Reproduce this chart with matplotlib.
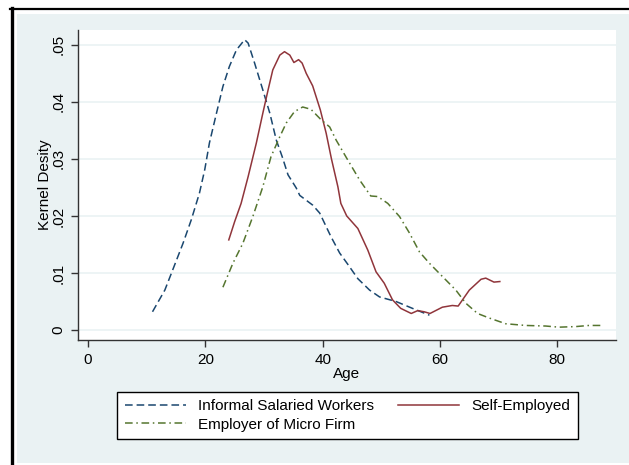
import numpy as np
import matplotlib.pyplot as plt
from matplotlib.patches import Rectangle
from matplotlib.lines import Line2D

# kernel density of age, by type of worker
salariedAge = [11.0, 13.1, 14.2, 16.2, 17.6, 19.0, 19.9, 20.7, 21.9, 23.0, 24.1, 25.3, 26.7, 27.3,
               28.4, 29.8, 31.0, 32.1, 33.1, 34.1, 35.5, 36.1, 38.3, 39.5, 41.4, 42.9, 44.3,
               46.0, 48.0, 49.7, 52.5, 55.3, 58.2]
salariedDens = [0.0032, 0.0070, 0.0099, 0.0152, 0.0193, 0.0240, 0.0281, 0.0328, 0.0380, 0.0427,
                0.0462, 0.0491, 0.0509, 0.0503, 0.0468, 0.0421, 0.0380, 0.0333, 0.0304, 0.0272,
                0.0249, 0.0236, 0.0219, 0.0205, 0.0164, 0.0135, 0.0115, 0.0090, 0.0070, 0.0058,
                0.0050, 0.0038, 0.0026]

selfAge = [24.0, 25.0, 26.1, 27.3, 28.7, 29.8, 30.7, 31.5, 32.7, 33.5, 34.4, 35.1, 35.9, 36.5,
           37.2, 38.3, 39.6, 40.6, 41.5, 42.6, 43.1, 44.1, 46.0, 47.7, 49.1, 50.5, 51.9, 53.3,
           55.1, 56.2, 57.3, 58.3, 60.4, 62.1, 63.1, 65.0, 67.0, 67.8, 69.2, 70.2]
selfDens = [0.0158, 0.0190, 0.0222, 0.0269, 0.0328, 0.0380, 0.0421, 0.0456, 0.0482, 0.0488,
            0.0482, 0.0469, 0.0474, 0.0468, 0.0450, 0.0428, 0.0386, 0.0345, 0.0300, 0.0251,
            0.0222, 0.0200, 0.0178, 0.0140, 0.0102, 0.0082, 0.0053, 0.0038, 0.0029, 0.0034,
            0.0032, 0.0029, 0.0040, 0.0043, 0.0042, 0.0070, 0.0089, 0.0091, 0.0084, 0.0085]

employerAge = [23.0, 24.7, 26.4, 28.1, 29.8, 31.2, 32.7, 33.8, 35.2, 36.6, 38.0, 39.7, 41.2,
               42.3, 44.0, 46.3, 48.2, 49.4, 51.1, 53.1, 54.8, 56.5, 58.2, 60.4, 62.7, 64.4,
               66.4, 68.4, 71.2, 74.6, 78.0, 80.3, 83.1, 85.4, 87.9]
employerDens = [0.0075, 0.0117, 0.0152, 0.0199, 0.0251, 0.0304, 0.0339, 0.0363, 0.0383, 0.0391,
                0.0387, 0.0369, 0.0356, 0.0333, 0.0303, 0.0263, 0.0235, 0.0234, 0.0222, 0.0199,
                0.0170, 0.0137, 0.0117, 0.0094, 0.0070, 0.0047, 0.0029, 0.0021, 0.0011, 0.0008,
                0.0007, 0.0005, 0.0006, 0.0008, 0.0008]

xTicks = [0, 20, 40, 60, 80]
yTicks = [0, 0.01, 0.02, 0.03, 0.04, 0.05]
yTickLabels = ['0', '.01', '.02', '.03', '.04', '.05']

plt.rcParams['font.family'] = ['Liberation Sans', 'DejaVu Sans']

W, H = 629, 465
fig = plt.figure(figsize=(W / 100, H / 100), dpi=100, facecolor='white')

bgColor = '#EAF2F3'
fig.patches.append(Rectangle((17 / W, 2 / H), 1 - 17 / W, (H - 16) / H,
                             transform=fig.transFigure, facecolor=bgColor,
                             edgecolor='none', zorder=-5))
fig.lines.append(Line2D([11.5 / W, 11.5 / W], [0, 1 - 8 / H], transform=fig.transFigure,
                        color='black', lw=2.4, zorder=-4))
fig.lines.append(Line2D([10 / W, 1], [1 - 9 / H, 1 - 9 / H], transform=fig.transFigure,
                        color='black', lw=1.6, zorder=-4))

# caption from the page, cut at the top
fig.text(-27 / W, 1 + 0.5 / H, 'Figure 3.1: Distribution of Age among Informal Employment Categories',
         family='Liberation Serif', weight='bold', fontsize=18.9, va='bottom', ha='left')

ax = fig.add_axes([78 / W, 1 - 340 / H, (616 - 78) / W, (340 - 30) / H], zorder=2)
ax.set_facecolor('white')

navy = '#1A476F'
maroon = '#90353B'
green = '#55752F'

l1, = ax.plot(salariedAge, salariedDens, color=navy, lw=1.1, dashes=(5, 2.6),
              label='Informal Salaried Workers')
l2, = ax.plot(selfAge, selfDens, color=maroon, lw=1.1, label='Self-Employed')
l3, = ax.plot(employerAge, employerDens, color=green, lw=1.1, dashes=(5, 2.4, 1, 2.4),
              label='Employer of Micro Firm')

ax.set_xlim(-1.7, 90)
ax.set_ylim(-0.00175, 0.0526)
ax.set_xticks(xTicks)
ax.set_yticks(yTicks)
ax.set_yticklabels(yTickLabels, rotation=90, va='center')
ax.grid(axis='y', color=bgColor, lw=1.2)
ax.set_axisbelow(True)

for s in ['top', 'right']:
    ax.spines[s].set_visible(False)
for s in ['left', 'bottom']:
    ax.spines[s].set_color('#333333')
    ax.spines[s].set_linewidth(1.0)
ax.tick_params(direction='out', length=5, width=1.0, color='#333333', labelsize=11,
               labelcolor='black', pad=4)

ax.set_xlabel('Age', fontsize=11, labelpad=0)
ax.set_ylabel('Kernel Desity', fontsize=11, labelpad=0)

leg = fig.legend([l1, l3, l2], ['Informal Salaried Workers', 'Employer of Micro Firm', 'Self-Employed'],
                 ncol=2, loc='center', bbox_to_anchor=(347.5 / W, 1 - 415.5 / H),
                 fontsize=11, handlelength=4.0, handletextpad=0.8, columnspacing=1.6,
                 labelspacing=0.3, fancybox=False, frameon=True, borderpad=0.5)
leg.set_zorder(3)
leg.get_frame().set_edgecolor('black')
leg.get_frame().set_linewidth(1.0)
leg.get_frame().set_facecolor('white')
leg.get_frame().set_alpha(1)

fig.savefig('out.png', dpi=100, facecolor='white')
